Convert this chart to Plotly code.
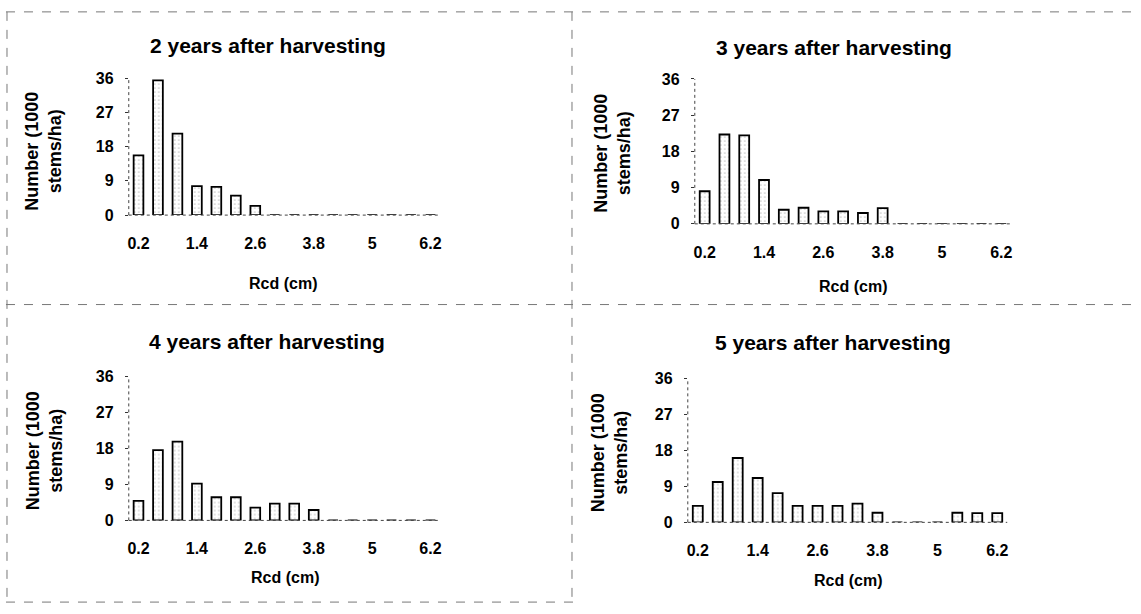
import plotly.graph_objects as go

categories = [0.2, 0.6, 1.0, 1.4, 1.8, 2.2, 2.6, 3.0, 3.4, 3.8, 4.2, 4.6, 5.0, 5.4, 5.8, 6.2]
tick_vals = [0.2, 1.4, 2.6, 3.8, 5.0, 6.2]
tick_text = ["0.2", "1.4", "2.6", "3.8", "5", "6.2"]
y_ticks = [0, 9, 18, 27, 36]

year2 = [15.7, 35.4, 21.4, 7.6, 7.4, 5.1, 2.4, 0, 0, 0, 0, 0, 0, 0, 0, 0]
year3 = [8.1, 22.2, 22.0, 10.9, 3.5, 4.0, 3.1, 3.1, 2.7, 3.9, 0, 0, 0, 0, 0, 0]
year4 = [4.9, 17.6, 19.7, 9.2, 5.8, 5.8, 3.2, 4.2, 4.2, 2.6, 0, 0, 0, 0, 0, 0]
year5 = [4.1, 10.1, 16.1, 11.1, 7.3, 4.1, 4.1, 4.1, 4.7, 2.4, 0, 0, 0, 2.4, 2.3, 2.3]

titles = ["2 years after harvesting", "3 years after harvesting",
          "4 years after harvesting", "5 years after harvesting"]
series = [year2, year3, year4, year5]

W, H = 1141, 614
# plot-area pixel boxes: left, right, top, bottom
boxes = [(128, 440, 72, 213), (695, 1012, 73, 222),
         (128, 440, 379, 527), (688, 1008, 381, 529)]
# label centres (pixels): title (x, y), x-title (x, y), y-title (x, y)
title_pos = [(267, 39), (834, 41), (266, 343), (833, 344)]
xtitle_pos = [(282, 283), (853, 286), (284, 586), (848, 589)]
ytitle_pos = [(43, 147), (613, 149), (43, 455), (609, 457)]

FONT = "Liberation Sans, Arial, sans-serif"
fig = go.Figure()
shapes = []
annotations = []

for i, (vals, title, box) in enumerate(zip(series, titles, boxes)):
    n = i + 1
    xa = "x" if n == 1 else f"x{n}"
    ya = "y" if n == 1 else f"y{n}"
    l, r, t, b = box
    fig.add_trace(go.Bar(
        x=categories, y=vals, xaxis=xa, yaxis=ya, width=0.2,
        marker=dict(color="white", line=dict(color="black", width=1.8),
                    pattern=dict(shape=".", fgcolor="#8a8a8a", bgcolor="white",
                                 size=4, solidity=0.15)),
        showlegend=False, hoverinfo="x+y"))
    xkey = "xaxis" if n == 1 else f"xaxis{n}"
    ykey = "yaxis" if n == 1 else f"yaxis{n}"
    fig.layout[xkey] = dict(
        domain=[l / W, r / W], anchor=ya, range=[0.0, 6.4],
        tickvals=tick_vals, ticktext=tick_text, showgrid=False, zeroline=False,
        showline=False, ticks="", ticklabelstandoff=17,
        tickfont=dict(family=FONT, size=16, color="black", weight="bold"))
    fig.layout[ykey] = dict(
        domain=[1 - b / H, 1 - t / H], anchor=xa, range=[0, 36],
        tickvals=y_ticks, showgrid=False, zeroline=False, showline=False,
        ticks="outside", ticklen=3, tickcolor="#333", ticklabelstandoff=8,
        tickfont=dict(family=FONT, size=16, color="black", weight="bold"))
    # axis lines (dotted, scanned look)
    shapes.append(dict(type="line", xref=f"{xa} domain", yref=f"{ya} domain",
                       x0=0, x1=0, y0=0, y1=1,
                       line=dict(color="#444", width=1, dash="dot")))
    shapes.append(dict(type="line", xref=f"{xa} domain", yref=f"{ya} domain",
                       x0=0, x1=1, y0=0, y1=0,
                       line=dict(color="#444", width=1, dash="dot")))
    tx, ty = title_pos[i]
    annotations.append(dict(text=f"<b>{title}</b>", xref="paper", yref="paper",
                            x=tx / W, y=1 - ty / H, showarrow=False,
                            font=dict(family=FONT, size=21, color="black"),
                            xanchor="center", yanchor="middle"))
    xx, xy = xtitle_pos[i]
    annotations.append(dict(text="<b>Rcd (cm)</b>", xref="paper", yref="paper",
                            x=xx / W, y=1 - xy / H, showarrow=False,
                            font=dict(family=FONT, size=16, color="black"),
                            xanchor="center", yanchor="middle"))
    yx, yy = ytitle_pos[i]
    annotations.append(dict(text="<b>Number (1000<br>stems/ha)</b>", xref="paper", yref="paper",
                            x=yx / W, y=1 - yy / H, showarrow=False,
                            textangle=-90,
                            font=dict(family=FONT, size=18, color="black"),
                            xanchor="center", yanchor="middle"))

# panel borders
for (x0, y0, x1, y1) in [(5, 4, 1141, 4), (5, 305, 1141, 305), (5, 611, 575, 611),
                         (6, 4, 6, 611), (572, 4, 572, 611)]:
    shapes.append(dict(type="line", xref="paper", yref="paper",
                       x0=x0 / W, x1=x1 / W, y0=1 - y0 / H, y1=1 - y1 / H,
                       line=dict(color="#777", width=1, dash="dash")))

fig.update_layout(width=W, height=H, margin=dict(l=0, r=0, t=0, b=0),
                  paper_bgcolor="white", plot_bgcolor="white",
                  bargap=0.45, shapes=shapes, annotations=annotations,
                  font=dict(family=FONT, color="black"))
fig.write_html("out.html")
